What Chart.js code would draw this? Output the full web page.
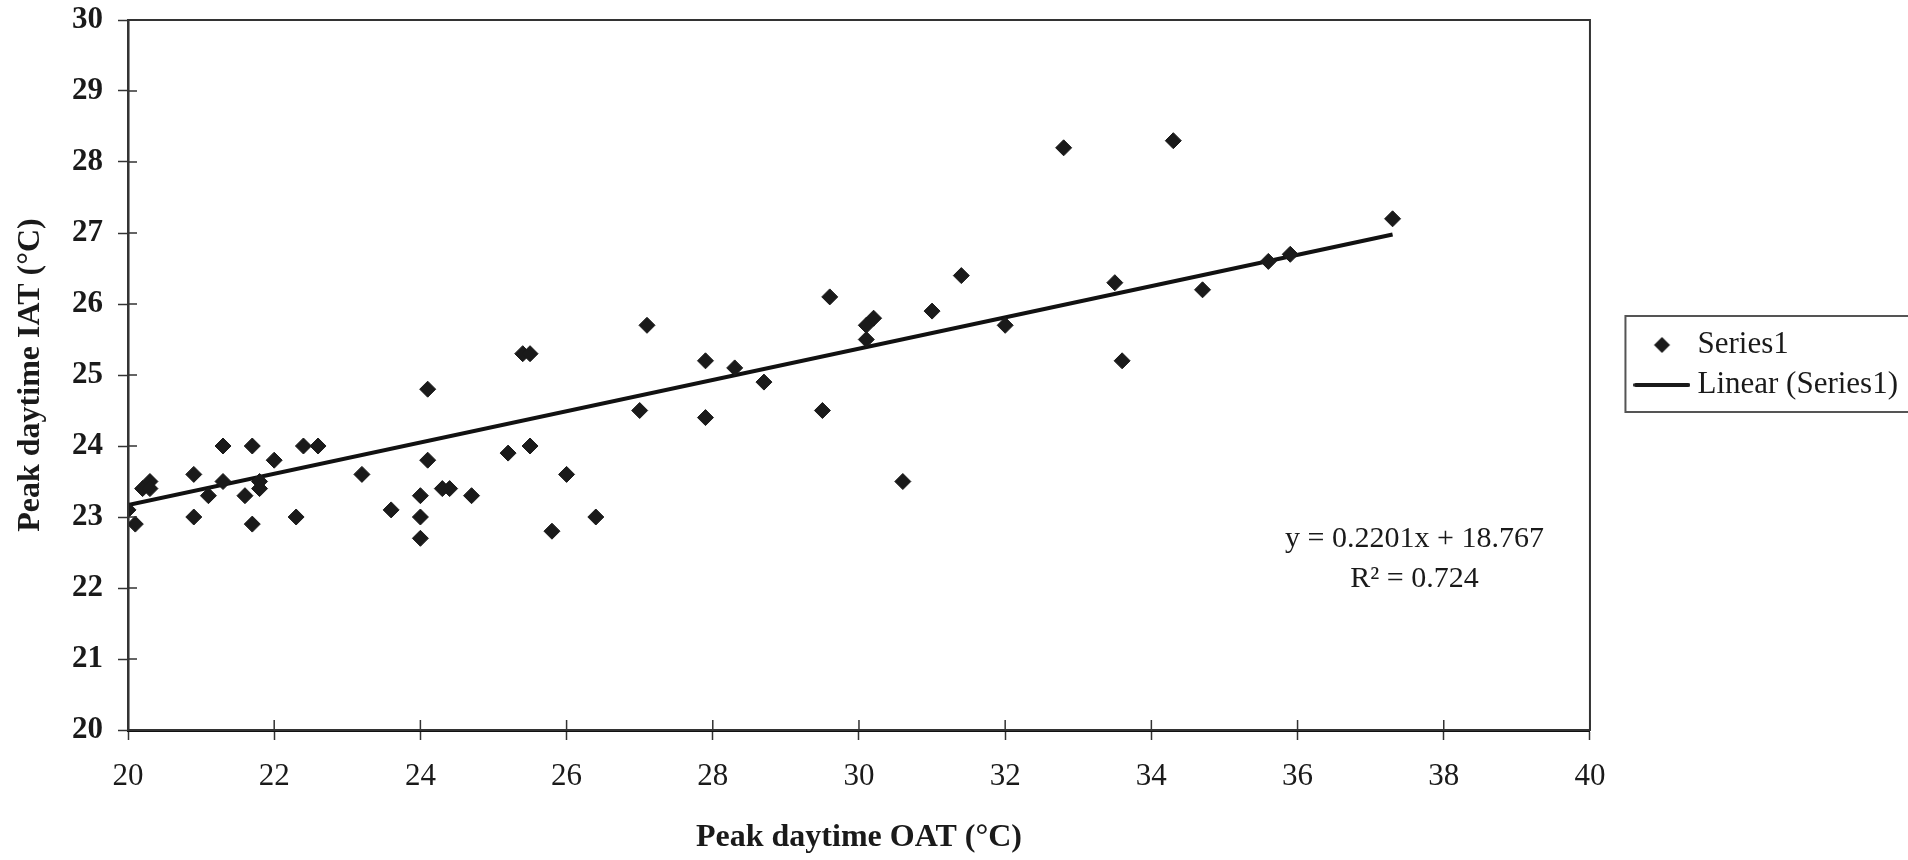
<!DOCTYPE html>
<html>
<head>
<meta charset="utf-8">
<title>Peak daytime IAT vs OAT</title>
<script src="https://cdn.jsdelivr.net/npm/chart.js@4.4.1/dist/chart.umd.min.js"></script>
<style>
  html, body { margin: 0; padding: 0; background: #fff; }
  canvas { display: block; }
</style>
</head>
<body>
<canvas id="chart" width="1908" height="860"></canvas>
<script>
// scatter values
const oat = [20.0, 20.1, 20.2, 20.3, 20.3, 20.9, 20.9, 21.1, 21.3, 21.3,
             21.6, 21.7, 21.7, 21.8, 21.8, 22.0, 22.3, 22.4, 22.6, 23.2,
             23.6, 24.0, 24.0, 24.0, 24.1, 24.1, 24.3, 24.4, 24.7, 25.2,
             25.4, 25.5, 25.5, 25.8, 26.0, 26.4, 27.0, 27.1, 27.9, 27.9,
             28.3, 28.7, 29.5, 29.6, 30.1, 30.1, 30.2, 30.6, 31.0, 31.4,
             32.0, 32.8, 33.5, 33.6, 34.3, 34.7, 35.6, 35.9, 37.3];
const iat = [23.1, 22.9, 23.4, 23.5, 23.4, 23.6, 23.0, 23.3, 24.0, 23.5,
             23.3, 24.0, 22.9, 23.5, 23.4, 23.8, 23.0, 24.0, 24.0, 23.6,
             23.1, 23.3, 23.0, 22.7, 23.8, 24.8, 23.4, 23.4, 23.3, 23.9,
             25.3, 25.3, 24.0, 22.8, 23.6, 23.0, 24.5, 25.7, 25.2, 24.4,
             25.1, 24.9, 24.5, 26.1, 25.5, 25.7, 25.8, 23.5, 25.9, 26.4,
             25.7, 28.2, 26.3, 25.2, 28.3, 26.2, 26.6, 26.7, 27.2];

// trend line end points, as drawn
const trendX = [20, 37.3];
const trendY = [23.17, 26.98];

const seriesNames = ["Series1", "Linear (Series1)"];
const eqLines = ["y = 0.2201x + 18.767", "R\u00B2 = 0.724"];
const eqAnchorX = 37.6;
const eqAnchorY = [22.58, 22.01];

const FONT = "'Liberation Serif', 'Times New Roman', serif";
const INK = "#1a1a1a";

Chart.defaults.font.family = FONT;
Chart.defaults.color = INK;

// legend markers: a diamond and a line sample
function makeMarker(kind) {
  const c = document.createElement("canvas");
  c.width = 57;
  c.height = 18;
  const g = c.getContext("2d");
  g.fillStyle = INK;
  g.strokeStyle = INK;
  if (kind === "diamond") {
    g.beginPath();
    g.moveTo(20.5, 9);
    g.lineTo(28.5, 1);
    g.lineTo(36.5, 9);
    g.lineTo(28.5, 17);
    g.closePath();
    g.fill();
  } else {
    g.lineWidth = 4;
    g.lineCap = "round";
    g.beginPath();
    g.moveTo(2, 9);
    g.lineTo(55, 9);
    g.stroke();
  }
  return c;
}
const markers = [makeMarker("diamond"), makeMarker("line")];

// frame round the plot plus the inner half of each tick
const plotFrame = {
  id: "plotFrame",
  afterDatasetsDraw(chart) {
    const { ctx, chartArea: a, scales } = chart;
    ctx.save();
    ctx.strokeStyle = "#333";
    ctx.lineWidth = 2;
    ctx.strokeRect(a.left, a.top, a.right - a.left, a.bottom - a.top);
    ctx.lineWidth = 1.5;
    ctx.beginPath();
    scales.x.ticks.forEach((t) => {
      const px = scales.x.getPixelForValue(t.value);
      ctx.moveTo(px, a.bottom);
      ctx.lineTo(px, a.bottom - 10);
    });
    scales.y.ticks.forEach((t) => {
      const py = scales.y.getPixelForValue(t.value);
      ctx.moveTo(a.left, py);
      ctx.lineTo(a.left + 9, py);
    });
    ctx.stroke();

    // regression text
    ctx.fillStyle = INK;
    ctx.font = "30px " + FONT;
    ctx.textAlign = "center";
    ctx.textBaseline = "alphabetic";
    eqLines.forEach((txt, i) => {
      ctx.fillText(txt, scales.x.getPixelForValue(eqAnchorX), scales.y.getPixelForValue(eqAnchorY[i]));
    });
    ctx.restore();
  },
};

// legend sits a little above the middle of the plot, inside a box
const legendFrame = {
  id: "legendFrame",
  afterLayout(chart) {
    chart.legend.bottom -= 20;
  },
  afterDraw(chart) {
    const lg = chart.legend;
    const pad = lg.options.labels.padding;
    const fs = lg.options.labels.font.size;
    const colH = lg.legendItems.length * (fs + pad);
    const y0 = (lg.top + pad + lg.bottom - colH) / 2;
    const ctx = chart.ctx;
    ctx.save();
    ctx.strokeStyle = "#555";
    ctx.lineWidth = 2;
    ctx.strokeRect(lg.left - 7.5, y0 - 13.5, chart.width, colH + 16);
    ctx.restore();
  },
};

new Chart(document.getElementById("chart"), {
  type: "scatter",
  data: {
    datasets: [
      {
        label: seriesNames[0],
        data: oat.map((x, i) => ({ x: x, y: iat[i] })),
        pointStyle: "rectRot",
        pointRadius: 8,
        pointHoverRadius: 8,
        backgroundColor: INK,
        borderColor: INK,
        borderWidth: 1,
      },
      {
        label: seriesNames[1],
        data: trendX.map((x, i) => ({ x: x, y: trendY[i] })),
        showLine: true,
        pointRadius: 0,
        borderColor: "#111",
        borderWidth: 4,
        fill: false,
      },
    ],
  },
  options: {
    responsive: false,
    animation: false,
    devicePixelRatio: 1,
    layout: { padding: { top: 20, right: 0, bottom: 0, left: 0 } },
    plugins: {
      tooltip: { enabled: false },
      legend: {
        position: "right",
        fullSize: false,
        labels: {
          usePointStyle: true,
          pointStyleWidth: 40,
          padding: 9,
          color: INK,
          font: { size: 31, family: FONT },
          generateLabels: (chart) =>
            chart.data.datasets.map((ds, i) => ({
              text: ds.label,
              pointStyle: markers[i],
              fillStyle: INK,
              strokeStyle: INK,
              lineWidth: 0,
              hidden: false,
              datasetIndex: i,
              fontColor: INK,
            })),
        },
      },
    },
    scales: {
      x: {
        type: "linear",
        min: 20,
        max: 40,
        ticks: { stepSize: 2, padding: 18, color: INK, font: { size: 31 } },
        grid: { drawOnChartArea: false, tickLength: 10, tickColor: "#333", tickWidth: 1.5 },
        border: { color: "#111", width: 3 },
        title: {
          display: true,
          text: "Peak daytime OAT (\u00B0C)",
          color: INK,
          font: { size: 32, weight: "bold" },
          padding: { top: 0, bottom: 3 },
        },
        afterFit: (s) => { s.height = 130; },
      },
      y: {
        type: "linear",
        min: 20,
        max: 30,
        ticks: { stepSize: 1, padding: 15, color: INK, font: { size: 31, weight: "bold" } },
        grid: { drawOnChartArea: false, tickLength: 10, tickColor: "#333", tickWidth: 1.5 },
        border: { color: "#222", width: 2.5 },
        title: {
          display: true,
          text: "Peak daytime IAT (\u00B0C)",
          color: INK,
          font: { size: 32, weight: "bold" },
          padding: { top: 12, bottom: 0 },
        },
        afterFit: (s) => {
          s.width = 128;
          s.paddingTop = 0;
          s.paddingBottom = 0;
        },
      },
      gap: {
        type: "linear",
        position: "right",
        display: true,
        grid: { display: false },
        ticks: { display: false },
        border: { display: false },
        afterFit: (s) => {
          s.width = 43;
          s.paddingTop = 0;
          s.paddingBottom = 0;
        },
      },
    },
  },
  plugins: [plotFrame, legendFrame],
});
</script>
</body>
</html>
